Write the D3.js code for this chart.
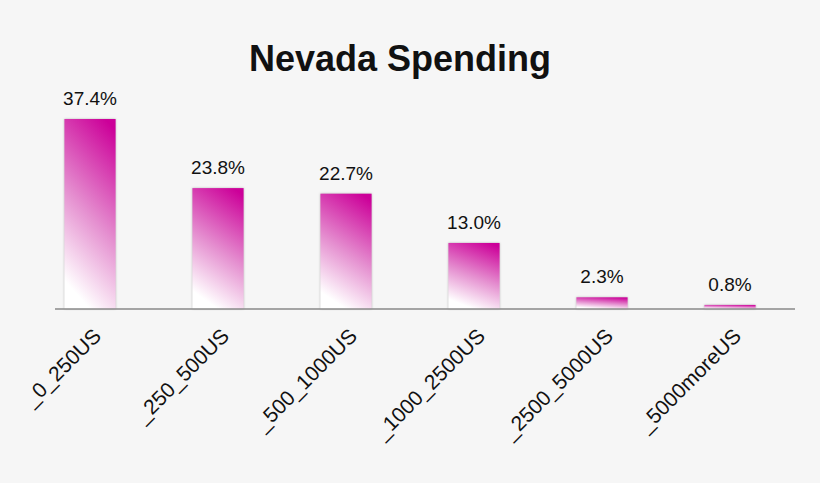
<!DOCTYPE html>
<html lang="en">
<head>
<meta charset="UTF-8">
<title>Nevada Spending</title>
<script src="https://cdn.jsdelivr.net/npm/d3@7"></script>
<style>
  body { margin: 0; background: #f6f6f6; }
  text { font-family: "Liberation Sans", Arial, sans-serif; fill: #111; }
</style>
</head>
<body>
<div id="chart"></div>
<script>
  var categories = ['_0_250US', '_250_500US', '_500_1000US', '_1000_2500US', '_2500_5000US', '_5000moreUS'];
  var values = [37.4, 23.8, 22.7, 13.0, 2.3, 0.8];

  var W = 820, H = 483, baseY = 309;

  var svg = d3.select('#chart').append('svg')
      .attr('width', W).attr('height', H);

  var defs = svg.append('defs');
  var grad = defs.append('linearGradient').attr('id', 'barGrad')
      .attr('x1', '80%').attr('y1', '0%').attr('x2', '50%').attr('y2', '100%');
  grad.append('stop').attr('offset', '0%').attr('stop-color', '#cc0099');
  grad.append('stop').attr('offset', '55%').attr('stop-color', '#e590d0');
  grad.append('stop').attr('offset', '100%').attr('stop-color', '#ffffff');

  var x = d3.scaleBand().domain(categories).range([26, 794]).paddingInner(0.6).paddingOuter(0.3);
  var y = d3.scaleLinear().domain([0, 37.4]).range([baseY, 119]);

  svg.append('text').attr('x', 400).attr('y', 71).attr('text-anchor', 'middle')
      .style('font-size', '36px').style('font-weight', 'bold').text('Nevada Spending');

  svg.selectAll('rect.bar').data(values).enter().append('rect')
      .attr('class', 'bar')
      .attr('x', function(d, i) { return x(categories[i]); })
      .attr('y', function(d) { return y(d); })
      .attr('width', x.bandwidth())
      .attr('height', function(d) { return baseY - y(d); })
      .attr('fill', 'url(#barGrad)')
      .style('filter', 'drop-shadow(0px 0px 1px rgba(0,0,0,0.25))');

  svg.append('line').attr('x1', 55).attr('x2', 795).attr('y1', baseY).attr('y2', baseY)
      .attr('stroke', '#888').attr('stroke-width', 1.5);

  svg.selectAll('text.val').data(values).enter().append('text')
      .attr('class', 'val')
      .attr('x', function(d, i) { return x(categories[i]) + x.bandwidth() / 2; })
      .attr('y', function(d) { return y(d) - 14; })
      .attr('text-anchor', 'middle').style('font-size', '19px')
      .text(function(d) { return d.toFixed(1) + '%'; });

  svg.selectAll('text.cat').data(categories).enter().append('text')
      .attr('class', 'cat')
      .attr('transform', function(d) { return 'translate(' + (x(d) + x.bandwidth() / 2 + 2) + ',' + (baseY + 18) + ') rotate(-45)'; })
      .attr('text-anchor', 'end').attr('dy', '0.7em').style('font-size', '21px')
      .text(function(d) { return d; });
</script>
</body>
</html>
